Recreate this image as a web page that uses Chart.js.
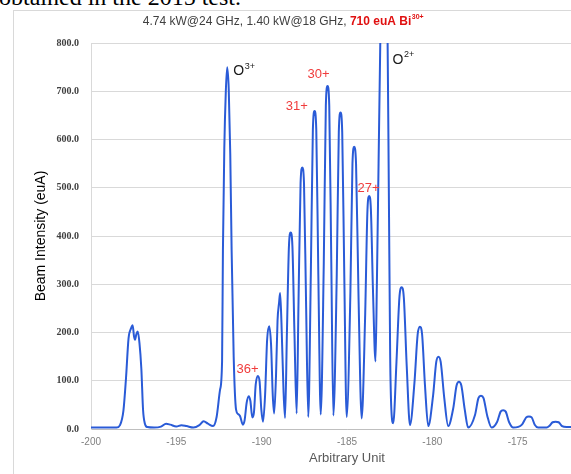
<!DOCTYPE html>
<html>
<head>
<meta charset="utf-8">
<script src="https://cdn.jsdelivr.net/npm/chart.js@4.4.1/dist/chart.umd.min.js"></script>
<style>
html, body { margin: 0; padding: 0; width: 571px; height: 474px; overflow: hidden; background: #fff; }
#cap { position: absolute; left: -1px; top: -15px; font: 24px/24px "Liberation Serif", serif; color: #000; white-space: nowrap; }
#frame { position: absolute; left: 13px; top: 10px; width: 700px; height: 600px; border: 1px solid #d9d9d9; }
#wrap { position: absolute; left: 13px; top: 10px; width: 640px; height: 470px; }
</style>
</head>
<body>
<div id="cap">obtained in the 2015 test.</div>
<div id="frame"></div>
<div id="wrap"><canvas id="chart" width="640" height="470"></canvas></div>
<script>
// --- data ---
const xValues = [
    -200, -199.0, -198.5, -198.3, -198.1, -197.95, -197.8, -197.66, -197.56, -197.48,
    -197.42, -197.34, -197.26, -197.16, -197.05, -196.95, -196.85, -196.7, -196.3, -195.9,
    -195.6, -195.35, -195.0, -194.7, -194.4, -194.0, -193.65, -193.4, -193.15, -192.85,
    -192.64, -192.44, -192.32, -192.27, -192.19, -192.1, -192.02, -191.93, -191.84, -191.76,
    -191.64, -191.5, -191.38, -191.27, -191.1, -191.0, -190.88, -190.76, -190.66, -190.55,
    -190.45, -190.35, -190.22, -190.12, -190.02, -189.92, -189.8, -189.68, -189.56, -189.45,
    -189.35, -189.27, -189.16, -189.07, -188.98, -188.92, -188.84, -188.72, -188.63,
    -188.52, -188.40, -188.30, -188.20, -188.08, -187.95,
    -187.84, -187.72, -187.62, -187.52, -187.40, -187.27,
    -187.12, -187.00, -186.90, -186.80, -186.68, -186.54,
    -186.36, -186.24, -186.14, -186.04, -185.92, -185.80,
    -185.60, -185.48, -185.38, -185.28, -185.16, -185.02,
    -184.80, -184.68, -184.58, -184.47, -184.33, -184.14,
    -183.94, -183.80, -183.70, -183.60, -183.48, -183.33,
    -183.25, -183.15, -183.05, -182.95, -182.84, -182.72, -182.62, -182.55, -182.47, -182.40, -182.29,
    -182.10, -181.93, -181.80, -181.67, -181.50, -181.31,
    -181.05, -180.86, -180.73, -180.60, -180.43, -180.24,
    -179.96, -179.77, -179.64, -179.51, -179.30, -179.07,
    -178.78, -178.58, -178.44, -178.30, -178.10, -177.90,
    -177.50, -177.30, -177.15, -177.00, -176.78, -176.53,
    -176.20, -176.00, -175.85, -175.70, -175.50, -175.26,
    -174.75, -174.50, -174.34, -174.18, -174.00, -173.80, -173.30,
    -173.15, -172.95, -172.78, -172.60, -172.40, -172.13, -171.6, -170.8, -170
];
const yValues = [
    3, 3, 3, 8, 38, 105, 188, 208, 215, 192,
    185, 197, 202, 178, 125, 40, 12, 4, 3, 5,
    11, 9, 5, 8, 6, 3, 8, 16, 11, 6,
    25, 81, 140, 370, 580, 700, 750, 705, 570, 370,
    150, 40, 31, 27, 9, 18, 54, 68, 58, 24,
    35, 92, 110, 98, 40, 15, 70, 185, 213, 175,
    70, 32, 110, 225, 262, 282, 220, 80, 23,
    200, 380, 407, 380, 200, 32,
    265, 510, 542, 510, 265, 25,
    320, 620, 659, 620, 320, 30,
    345, 670, 711, 670, 345, 28,
    320, 615, 656, 615, 320, 25,
    285, 550, 585, 550, 285, 22,
    230, 455, 483, 455, 290, 140,
    300, 550, 800, 1000, 1080, 1000, 800, 500, 150, 40, 12,
    140, 272, 294, 272, 130, 8,
    95, 196, 212, 196, 90, 6,
    68, 139, 150, 139, 64, 6,
    42, 90, 98, 90, 40, 3,
    29, 64, 69, 64, 27, 3,
    15, 36, 39, 36, 14, 3,
    9, 24, 26, 24, 9, 3, 3,
    6, 14, 15, 14, 6, 4, 4, 3, 3
];
const yTicks = [0, 100, 200, 300, 400, 500, 600, 700, 800];
const xTicks = [-200, -195, -190, -185, -180, -175, -170];

// peak labels: text, superscript, x, y (data units)
const peakLabels = [
    { text: 'O', sup: '3+', x: -191.66, y: 741, red: false },
    { text: 'O', sup: '2+', x: -182.33, y: 765, red: false },
    { text: '30+', sup: '', x: -187.31, y: 734, red: true },
    { text: '31+', sup: '', x: -188.59, y: 669, red: true },
    { text: '27+', sup: '', x: -184.38, y: 498, red: true },
    { text: '36+', sup: '', x: -191.47, y: 124, red: true },
];

const points = xValues.map((x, i) => ({ x, y: yValues[i] }));

// 見出しとピークのラベル
const textPlugin = {
    id: 'texts',
    afterDraw(chart) {
        const ctx = chart.ctx;
        const xs = chart.scales.x, ys = chart.scales.y;
        ctx.save();
        ctx.textBaseline = 'middle';
        ctx.textAlign = 'left';

        peakLabels.forEach(l => {
            const px = xs.getPixelForValue(l.x);
            const py = ys.getPixelForValue(l.y);
            if (l.red) {
                ctx.font = '13px "Liberation Sans", sans-serif';
                ctx.fillStyle = '#f03c3c';
                ctx.fillText(l.text, px, py);
            } else {
                ctx.font = '14px "Liberation Sans", sans-serif';
                ctx.fillStyle = '#1a1a1a';
                ctx.fillText(l.text, px, py);
                const w = ctx.measureText(l.text).width;
                ctx.font = '9px "Liberation Sans", sans-serif';
                ctx.fillText(l.sup, px + w + 0.5, py - 5);
            }
        });

        // title
        const t1 = '4.74 kW@24 GHz, 1.40 kW@18 GHz, ';
        const t2 = '710 euA Bi';
        const t3 = '30+';
        const f1 = '12px "Liberation Sans", sans-serif';
        const f2 = 'bold 12px "Liberation Sans", sans-serif';
        const f3 = 'bold 7px "Liberation Sans", sans-serif';
        ctx.font = f1; const w1 = ctx.measureText(t1).width;
        ctx.font = f2; const w2 = ctx.measureText(t2).width;
        ctx.font = f3; const w3 = ctx.measureText(t3).width;
        let tx = 270 - (w1 + w2 + w3) / 2;
        const ty = 11.5;
        ctx.font = f1; ctx.fillStyle = '#404040'; ctx.fillText(t1, tx, ty); tx += w1;
        ctx.font = f2; ctx.fillStyle = '#e01010'; ctx.fillText(t2, tx, ty); tx += w2;
        ctx.font = f3; ctx.fillText(t3, tx + 0.5, ty - 4);
        ctx.restore();
    }
};

new Chart(document.getElementById('chart'), {
    type: 'line',
    data: {
        datasets: [{
            data: points,
            borderColor: '#2a5bd7',
            borderWidth: 2,
            pointRadius: 0,
            cubicInterpolationMode: 'monotone',
            fill: false,
        }],
    },
    options: {
        responsive: false,
        animation: false,
        events: [],
        layout: { padding: { top: 33, right: 50, left: 0, bottom: 0 } },
        plugins: { legend: { display: false }, tooltip: { enabled: false } },
        scales: {
            x: {
                type: 'linear',
                min: -200,
                max: -170,
                afterBuildTicks: s => { s.ticks = xTicks.map(v => ({ value: v })); },
                afterFit: s => { s.height = 51; },
                grid: { display: false, drawTicks: false },
                border: { display: true, color: '#bfbfbf', width: 1 },
                ticks: {
                    padding: 7,
                    color: '#808080',
                    font: { family: '"Liberation Sans", sans-serif', size: 10 },
                    callback: v => String(v),
                },
                title: {
                    display: true,
                    text: 'Arbitrary Unit',
                    color: '#595959',
                    font: { family: '"Liberation Sans", sans-serif', size: 13 },
                    padding: { top: 0, bottom: 14 },
                },
            },
            y: {
                min: 0,
                max: 800,
                afterBuildTicks: s => { s.ticks = yTicks.map(v => ({ value: v })); },
                afterFit: s => { s.width = 78; },
                grid: { color: '#d9d9d9', drawTicks: false },
                border: { display: true, color: '#d9d9d9', width: 1 },
                ticks: {
                    padding: 12,
                    color: '#404040',
                    font: { family: '"Liberation Serif", serif', size: 10, weight: 'bold' },
                    callback: v => v.toFixed(1),
                },
                title: {
                    display: true,
                    text: 'Beam Intensity (euA)',
                    color: '#000',
                    font: { family: '"Liberation Sans", sans-serif', size: 14 },
                    padding: { top: 20, bottom: 0 },
                },
            },
        },
    },
    plugins: [textPlugin],
});
</script>
</body>
</html>
